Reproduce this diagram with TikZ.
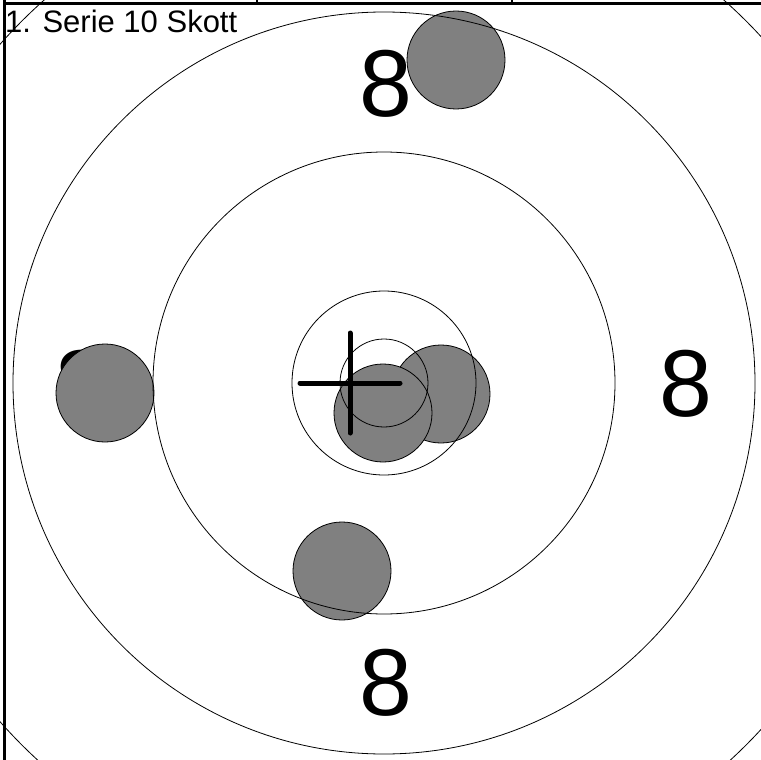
\documentclass[tikz,border=0pt]{standalone}
\usepackage{fontspec}
\setmainfont{Liberation Sans}
\begin{document}
\begin{tikzpicture}[x=1pt, y=-1pt]
    % 定义样式
    \tikzstyle{ring}=[line width=0.8pt, black]
    \tikzstyle{shot}=[circle, draw=black, line width=0.8pt, fill=gray, inner sep=0pt, minimum size=98pt]
    \tikzstyle{ringnum}=[inner sep=0pt, font=\fontsize{95}{95}\selectfont]
    \tikzstyle{frame}=[line width=2.2pt, black]
    \tikzstyle{crossline}=[line width=5pt, line cap=round, black]

    % 画布大小
    \useasboundingbox (0,0) rectangle (761,760);
    \clip (0,0) rectangle (761,760);
    \coordinate (mid) at (384,383);

    % 1. 环数 (被弹孔盖住)
    \node[ringnum] (ntop) at (386,84) {8};
    \node[ringnum] (nright) at (686,384) {8};
    \node[ringnum] (nbottom) at (386,683) {8};
    \node[ringnum] (nleft) at (82,384) {8};

    % 2. 弹孔
    \node[shot] (s1) at (456,60) {};
    \node[shot] (s2) at (105,393) {};
    \node[shot] (s3) at (441,394) {};
    \node[shot] (s4) at (383,413) {};
    \node[shot] (s5) at (342,571) {};

    % 3. 靶环
    \draw[ring] (mid) circle[radius=512pt];
    \draw[ring] (mid) circle[radius=371pt];
    \draw[ring] (mid) circle[radius=231pt];
    \draw[ring] (mid) circle[radius=92pt];
    \draw[ring] (mid) circle[radius=44pt];

    % 4. 平均弹着点的十字
    \coordinate (aim) at (350,383);
    \draw[crossline] ([xshift=-50pt]aim) -- ([xshift=50pt]aim);
    \draw[crossline] ([yshift=-50pt]aim) -- ([yshift=50pt]aim);

    % 5. 标题和边框
    \node[anchor=base west, inner sep=0pt, font=\fontsize{31}{31}\selectfont] (title) at (5,33) {1. Serie 10 Skott};
    \draw[frame] (4.5,3.5) -- (761,3.5);
    \draw[frame] (4.5,0) -- (4.5,760);
    \draw[frame] (257,0) -- (257,3.5);
    \draw[frame] (512,0) -- (512,3.5);

\end{tikzpicture}
\end{document}
